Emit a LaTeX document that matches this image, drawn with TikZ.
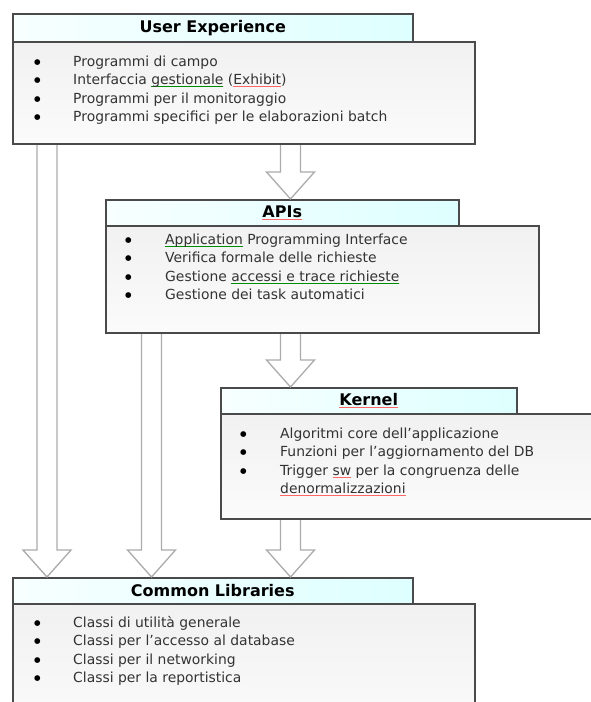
\documentclass[tikz,border=0pt]{standalone}
\usepackage{fontspec}
\setmainfont{DejaVu Sans}
\usetikzlibrary{calc}
\definecolor{boxline}{HTML}{4A4A4A}
\definecolor{arrline}{HTML}{ABABAB}
\definecolor{txt}{HTML}{333333}
\newcommand\redsq[1]{\setbox0\hbox{#1}\rlap{\color{red!60}\rule[-2.4pt]{\wd0}{0.6pt}}\box0\relax}
\newcommand\grnsq[1]{\setbox0\hbox{#1}\rlap{\color{green!55!black}\rule[-2.4pt]{\wd0}{0.6pt}}\box0\relax}
\newcommand\blockarr[3]{%
  \draw[blockarrow] let \p1=(#1.south -| #3), \p2=(#2.north -| #3) in
    (\x1-10pt,\y1) -- (\x1-10pt,\y2+27pt) -- (\x1-24pt,\y2+27pt) -- (\x1,\y2)
    -- (\x1+24pt,\y2+27pt) -- (\x1+10pt,\y2+27pt) -- (\x1+10pt,\y1);}
\tikzset{
  titlebar/.style={draw=boxline, line width=1.5pt, left color=cyan!3, right color=cyan!13,
    anchor=north west, inner sep=0pt},
  titletext/.style={font=\fontsize{16}{18}\selectfont\bfseries, text=black, inner sep=0pt},
  bodybox/.style={draw=boxline, line width=1.5pt, top color=gray!11, bottom color=gray!3,
    anchor=north west, inner sep=0pt},
  itemlist/.style={anchor=base west, inner sep=0pt, text=txt,
    font=\fontsize{13.9}{18.5}\selectfont},
  blockarrow/.style={draw=arrline, line width=1.3pt, fill=white, line join=miter},
}
\newcommand\bl{\raisebox{1.6pt}{\fontsize{7.5}{7.5}\selectfont\color{black}●}}
\begin{document}
\begin{tikzpicture}[x=1pt,y=-1pt]
\useasboundingbox (0,0) rectangle (591,702);
\fill[white] (0,0) rectangle (591,702);
% x positions for the arrows
\coordinate (xa) at (47,0);
\coordinate (xb) at (151.5,0);
\coordinate (xc) at (290.5,0);
% boxes (bodies first, titles drawn later on top)
\node[bodybox, minimum width=462pt, minimum height=102pt] (ux) at (12,41) {};
\node[titlebar, minimum width=400pt, minimum height=28pt] (uxt) at (12,13) {};
\node[bodybox, minimum width=433pt, minimum height=107pt] (api) at (105,225) {};
\node[titlebar, minimum width=353pt, minimum height=26pt] (apit) at (105,199) {};
\node[bodybox, minimum width=371pt, minimum height=105pt] (ker) at (220,413) {};
\node[titlebar, minimum width=296pt, minimum height=26pt] (kert) at (220,387) {};
\node[bodybox, minimum width=462pt, minimum height=130pt] (cl) at (12,603) {};
\node[titlebar, minimum width=400pt, minimum height=26pt] (clt) at (12,577) {};
% arrows
\blockarr{ux}{apit}{xc}
\blockarr{api}{kert}{xc}
\blockarr{ker}{clt}{xc}
\blockarr{ux}{clt}{xa}
\blockarr{api}{clt}{xb}
% redraw box outlines on top of arrow starts
\draw[boxline, line width=1.5pt] (ux.south west) -- (ux.south east);
\draw[boxline, line width=1.5pt] (api.south west) -- (api.south east);
\draw[boxline, line width=1.5pt] (ker.south west) -- (ker.south east);
% titles
\node[titletext] (uxtt) at (uxt.center) {User Experience};
\node[titletext] (apitt) at (apit.center) {\redsq{APIs}};
\node[titletext] (kertt) at (kert.center) {\redsq{Kernel}};
\node[titletext] (cltt) at (clt.center) {Common Libraries};
% lists
\node[itemlist] (uxl) at (34,66) {\begin{tabular}[t]{@{}p{39pt}@{}l@{}}
\bl & Programmi di campo\\
\bl & Interfaccia \grnsq{gestionale} (\redsq{Exhibit})\\
\bl & Programmi per il monitoraggio\\
\bl & Programmi specifici per le elaborazioni batch
\end{tabular}};
\node[itemlist] (apil) at (125,244) {\begin{tabular}[t]{@{}p{40pt}@{}l@{}}
\bl & \grnsq{Application} Programming Interface\\
\bl & Verifica formale delle richieste\\
\bl & Gestione \grnsq{accessi e trace richieste}\\
\bl & Gestione dei task automatici
\end{tabular}};
\node[itemlist] (kerl) at (240,438) {\begin{tabular}[t]{@{}p{40pt}@{}l@{}}
\bl & Algoritmi core dell’applicazione\\
\bl & Funzioni per l’aggiornamento del DB\\
\bl & Trigger \redsq{sw} per la congruenza delle\\
 & \redsq{denormalizzazioni}
\end{tabular}};
\node[itemlist] (cll) at (34,627) {\begin{tabular}[t]{@{}p{39pt}@{}l@{}}
\bl & Classi di utilità generale\\
\bl & Classi per l’accesso al database\\
\bl & Classi per il networking\\
\bl & Classi per la reportistica
\end{tabular}};
\end{tikzpicture}
\end{document}
